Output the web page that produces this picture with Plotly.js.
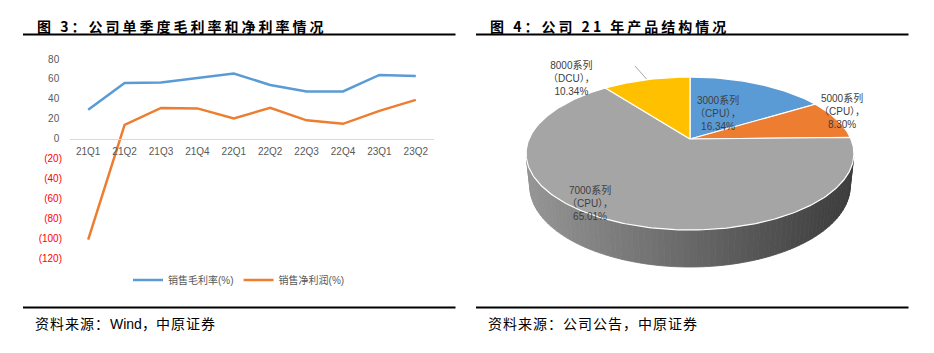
<!DOCTYPE html>
<html>
<head>
<meta charset="utf-8">
<script src="https://cdn.plot.ly/plotly-3.0.1.min.js"></script>
<style>html,body{margin:0;padding:0;background:#fff;}#chart{width:934px;height:353px;}</style>
</head>
<body>
<div id="chart"></div>
<script>
// ---------------- data ----------------
const quarters = ["21Q1","21Q2","21Q3","21Q4","22Q1","22Q2","22Q3","22Q4","23Q1","23Q2"];
const grossMargin = [29, 56, 56.5, 61, 65.5, 54, 47.5, 47.5, 64, 63];
const netMargin = [-101, 14, 31, 30.5, 20.5, 31, 18.5, 15, 28, 39];
const yTickVals = [80, 60, 40, 20, 0, -20, -40, -60, -80, -100, -120];
const yTickLabels = ["80","60","40","20","0","(20)","(40)","(60)","(80)","(100)","(120)"];
const seriesNames = ["销售毛利率(%)", "销售净利润(%)"];

const productNames = ["3000系列", "5000系列", "7000系列", "8000系列"];
const productTypes = ["（CPU）", "（CPU）", "（CPU）", "（DCU）"];
const productShares = [16.34, 8.30, 65.01, 10.34];

// ---------------- style ----------------
const W = 934, H = 353;
const px = x => x / W;
const py = y => (H - y) / H;
const CJK = "Liberation Sans, Arial, Noto Sans CJK SC, sans-serif";
const sliceColors = ["#5B9BD5", "#ED7D31", "#A5A5A5", "#FFC000"];
const labelPos = [[718, 113.5], [842, 111], [590, 203], [571, 78]];

// perspective of the 3D pie
const X0 = 690, Y0 = 139, K = 754, D = 4.685, SA = 0.458, CA = Math.sqrt(1 - SA * SA), DEPTH = 0.23;
function proj(theta, z) {
  const st = Math.sin(theta), ct = Math.cos(theta);
  const dep = ct * CA + D - z * SA;
  return [st / dep, (ct * SA + z * CA) / dep];
}

const traces = [];
// line chart
traces.push({x: quarters, y: grossMargin, type: "scatter", mode: "lines", name: seriesNames[0],
  line: {color: "#5B9BD5", width: 2.5}, xaxis: "x", yaxis: "y", hoverinfo: "skip"});
traces.push({x: quarters, y: netMargin, type: "scatter", mode: "lines", name: seriesNames[1],
  line: {color: "#ED7D31", width: 2.5}, xaxis: "x", yaxis: "y", hoverinfo: "skip"});

// pie side (front visible part of the cylinder)
const thS = Math.acos(-1 / (D * CA));
const thE = 2 * Math.PI - thS;
const nStrips = 80;
const xl = proj(3 * Math.PI / 2, 0)[0], xr = proj(Math.PI / 2, 0)[0];
for (let i = 0; i < nStrips; i++) {
  const a1 = thS + (thE - thS) * i / nStrips;
  const a2 = thS + (thE - thS) * (i + 1) / nStrips;
  const p1 = proj(a1, 0), p2 = proj(a2, 0), p3 = proj(a2, -DEPTH), p4 = proj(a1, -DEPTH);
  const mx = (p1[0] + p2[0]) / 2;
  let t = (mx - xl) / (xr - xl);
  t = Math.max(0, Math.min(1, t));
  const g = Math.round(148 - 88 * t);
  const col = `rgb(${g},${g},${g})`;
  traces.push({x: [p1[0], p2[0], p3[0], p4[0], p1[0]], y: [p1[1], p2[1], p3[1], p4[1], p1[1]],
    type: "scatter", mode: "lines", fill: "toself", fillcolor: col, line: {color: col, width: 0.8},
    xaxis: "x2", yaxis: "y2", showlegend: false, hoverinfo: "skip"});
}

// pie top slices
const total = productShares.reduce((a, b) => a + b, 0);
let cum = 0;
const annotations = [];
productShares.forEach((v, i) => {
  const t1 = 2 * Math.PI * cum / total;
  cum += v;
  const t2 = 2 * Math.PI * cum / total;
  const n = Math.max(4, Math.ceil((t2 - t1) / (Math.PI / 180)));
  const xs = [0], ys = [0];
  for (let k = 0; k <= n; k++) {
    const p = proj(t1 + (t2 - t1) * k / n, 0);
    xs.push(p[0]); ys.push(p[1]);
  }
  xs.push(0); ys.push(0);
  traces.push({x: xs, y: ys, type: "scatter", mode: "lines", fill: "toself", fillcolor: sliceColors[i],
    line: {color: "#ffffff", width: 1.2}, xaxis: "x2", yaxis: "y2", showlegend: false, hoverinfo: "skip"});
  annotations.push({xref: "paper", yref: "paper", x: px(labelPos[i][0]), y: py(labelPos[i][1]),
    xanchor: "center", yanchor: "middle", align: "center", showarrow: false,
    text: productNames[i] + "<br>" + productTypes[i] + "，<br>" + v.toFixed(2) + "%",
    font: {family: CJK, size: 10, color: "#404040"}});
});

// titles and sources
annotations.push({xref: "paper", yref: "paper", x: px(35), y: py(25.5), xanchor: "left", yanchor: "middle", showarrow: false,
  text: '<span style="letter-spacing:3px">图 3：公司单季度毛利率和净利率情况</span>',
  font: {family: "Noto Sans CJK SC, sans-serif", size: 14, color: "#000", weight: 700}});
annotations.push({xref: "paper", yref: "paper", x: px(488), y: py(25.5), xanchor: "left", yanchor: "middle", showarrow: false,
  text: '<span style="letter-spacing:3px">图 4：公司 21 年产品结构情况</span>',
  font: {family: "Noto Sans CJK SC, sans-serif", size: 14, color: "#000", weight: 700}});
annotations.push({xref: "paper", yref: "paper", x: px(33), y: py(324), xanchor: "left", yanchor: "middle", showarrow: false,
  text: '<span style="letter-spacing:1px">资料来源：</span>Wind，<span style="letter-spacing:1px">中原证券</span>',
  font: {family: CJK, size: 14, color: "#000"}});
annotations.push({xref: "paper", yref: "paper", x: px(486), y: py(324), xanchor: "left", yanchor: "middle", showarrow: false,
  text: '<span style="letter-spacing:1px">资料来源：公司公告，中原证券</span>',
  font: {family: CJK, size: 14, color: "#000"}});

const shapes = [
  {type: "line", xref: "paper", yref: "paper", x0: px(23), x1: px(455.5), y0: py(34.5), y1: py(34.5), line: {color: "#000", width: 2}},
  {type: "line", xref: "paper", yref: "paper", x0: px(476), x1: px(908.5), y0: py(34.5), y1: py(34.5), line: {color: "#000", width: 2}},
  {type: "line", xref: "paper", yref: "paper", x0: px(23), x1: px(455.5), y0: py(307.5), y1: py(307.5), line: {color: "#000", width: 2}},
  {type: "line", xref: "paper", yref: "paper", x0: px(476), x1: px(908.5), y0: py(307.5), y1: py(307.5), line: {color: "#000", width: 2}},
  {type: "line", xref: "paper", yref: "paper", x0: px(635), x1: px(646.5), y0: py(66), y1: py(79), line: {color: "#a6a6a6", width: 1}}
];

const yTop = 59, yBot = 258.5;
const ticktext = yTickVals.map((v, i) => v < 0 ? '<span style="fill:#ff0000">' + yTickLabels[i] + '</span>' : yTickLabels[i] + '\u00a0');
const zeroFrac = py(yBot + (yTop - yBot) * (0 - (-120)) / 200);

const layout = {
  width: W, height: H, autosize: false,
  margin: {l: 0, r: 0, t: 0, b: 0},
  paper_bgcolor: "#fff", plot_bgcolor: "rgba(0,0,0,0)",
  showlegend: true,
  legend: {orientation: "h", x: px(128), xanchor: "left", y: py(280), yanchor: "middle",
    font: {family: CJK, size: 10, color: "#595959"}, bgcolor: "rgba(0,0,0,0)", tracegroupgap: 0},
  xaxis: {domain: [px(70), px(434)], type: "category", range: [-0.5, 9.5], anchor: "free", position: zeroFrac,
    showline: true, linecolor: "#d9d9d9", linewidth: 1, showgrid: false, zeroline: false, ticks: "",
    tickfont: {family: CJK, size: 10, color: "#595959"}, ticklabelstandoff: 3, fixedrange: true},
  yaxis: {domain: [py(yBot), py(yTop)], range: [-120, 80], anchor: "x", tickvals: yTickVals, ticktext: ticktext,
    showline: false, showgrid: false, zeroline: false, ticks: "",
    tickfont: {family: CJK, size: 10, color: "#595959"}, ticklabelstandoff: 7, fixedrange: true},
  xaxis2: {domain: [px(476), px(908)], range: [(476 - X0) / K, (908 - X0) / K], anchor: "y2", visible: false, fixedrange: true},
  yaxis2: {domain: [py(300), py(40)], range: [(Y0 - 300) / K, (Y0 - 40) / K], anchor: "x2", visible: false, fixedrange: true},
  annotations: annotations,
  shapes: shapes
};

Plotly.newPlot("chart", traces, layout, {displayModeBar: false, staticPlot: true});
</script>
</body>
</html>
